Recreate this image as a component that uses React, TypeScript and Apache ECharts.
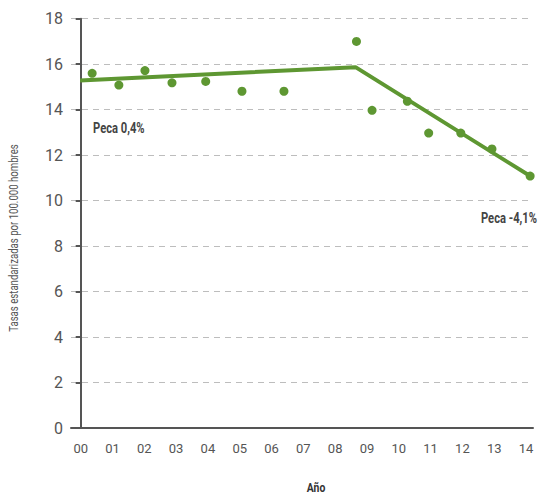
import React, { useEffect, useRef } from "react";
import * as echarts from "echarts";

const tickLabels = ["00", "01", "02", "03", "04", "05", "06", "07", "08", "09", "10", "11", "12", "13", "14"];
const pointX = [0.36, 1.2, 2.02, 2.87, 3.93, 5.07, 6.39, 8.67, 9.16, 10.27, 10.94, 11.95, 12.93, 14.13];
const pointY = [15.6, 15.08, 15.72, 15.18, 15.24, 14.81, 14.81, 17.0, 13.97, 14.37, 12.97, 12.97, 12.27, 11.08];
const trendX = [-0.02, 8.64, 14.13];
const trendY = [15.28, 15.87, 11.08];
const yTicks = [0, 2, 4, 6, 8, 10, 12, 14, 16, 18];

const FONT = "Roboto";
const GREEN = "#5e9732";

export default function App() {
  const ref = useRef<HTMLDivElement>(null);
  useEffect(() => {
    if (!ref.current) return;
    const chart = echarts.init(ref.current, undefined, { renderer: "svg" });
    chart.setOption({
      animation: false,
      backgroundColor: "#ffffff",
      grid: { left: 71, right: 5, top: 18.7, bottom: 68, containLabel: false },
      xAxis: {
        type: "value",
        min: -0.305,
        max: 14.22,
        axisLine: { show: true, lineStyle: { color: "#555", width: 2 } },
        axisTick: { show: false },
        splitLine: { show: false },
        axisLabel: {
          customValues: tickLabels.map((_, i) => i),
          formatter: (v: number) => tickLabels[Math.round(v)] ?? "",
          color: "#555",
          fontFamily: FONT,
          fontSize: 13,
          margin: 14,
        },
      },
      yAxis: {
        type: "value",
        min: 0,
        max: 18,
        interval: 2,
        axisLine: { show: true, lineStyle: { color: "#555", width: 2 } },
        axisTick: { show: true, length: 5, lineStyle: { color: "#555", width: 2 } },
        splitLine: { show: true, lineStyle: { color: "#bdbdbd", type: [6, 5], width: 1 } },
        axisLabel: {
          color: "#555",
          fontFamily: FONT,
          fontSize: 16,
          margin: 8,
          formatter: (v: number) => (yTicks.includes(v) ? String(v) : ""),
        },
      },
      series: [
        {
          type: "line",
          data: trendX.map((x, i) => [x, trendY[i]]),
          symbol: "none",
          lineStyle: { color: GREEN, width: 4 },
          z: 2,
        },
        {
          type: "scatter",
          data: pointX.map((x, i) => [x, pointY[i]]),
          symbolSize: 9,
          itemStyle: { color: GREEN, opacity: 1 },
          z: 3,
        },
      ],
      graphic: [
        {
          type: "text",
          x: 93,
          y: 128,
          scaleX: 0.8,
          style: { text: "Peca 0,4%", fontFamily: FONT, fontWeight: "bold", fontSize: 14, fill: "#444", align: "left", verticalAlign: "middle" },
        },
        {
          type: "text",
          x: 537,
          y: 218,
          scaleX: 0.8,
          style: { text: "Peca -4,1%", fontFamily: FONT, fontWeight: "bold", fontSize: 14, fill: "#444", align: "right", verticalAlign: "middle" },
        },
        {
          type: "text",
          x: 316,
          y: 488,
          scaleX: 0.8,
          style: { text: "Año", fontFamily: FONT, fontWeight: "bold", fontSize: 13, fill: "#333", align: "center", verticalAlign: "middle" },
        },
        {
          type: "text",
          x: 13,
          y: 238,
          rotation: Math.PI / 2,
          scaleX: 0.74,
          style: {
            text: "Tasas estandarizadas por 100.000 hombres",
            fontFamily: FONT,
            fontSize: 13,
            fill: "#555",
            align: "center",
            verticalAlign: "middle",
          },
        },
      ],
    });
    return () => chart.dispose();
  }, []);
  return <div ref={ref} style={{ width: 538, height: 496, position: "absolute", left: 0, top: 0 }} />;
}
